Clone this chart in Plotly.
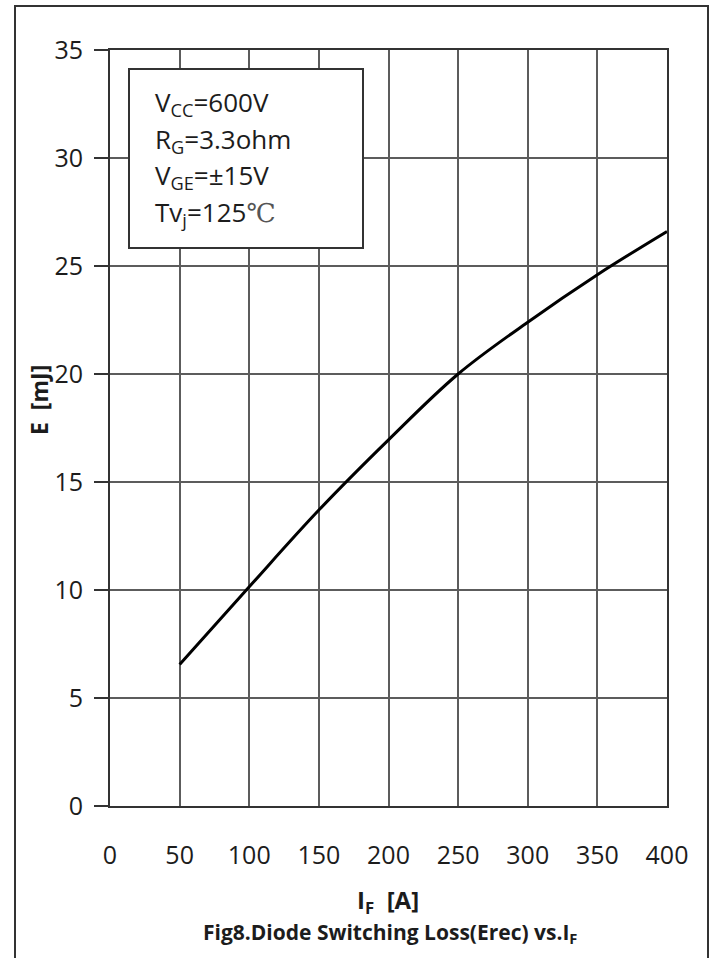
import plotly.graph_objects as go

# Data
i_f = [50, 100, 150, 200, 250, 300, 350, 400]
e_rec = [6.55, 10.15, 13.7, 16.95, 20.0, 22.4, 24.6, 26.6]

x_ticks = [0, 50, 100, 150, 200, 250, 300, 350, 400]
y_ticks = [0, 5, 10, 15, 20, 25, 30, 35]

cond_lines = ["V<sub>CC</sub>=600V", "R<sub>G</sub>=3.3ohm",
              "V<sub>GE</sub>=±15V", "Tv<sub>j</sub>=125<span style='font-family:DejaVu Serif;color:#555'>℃</span>"]
x_title = "I<sub>F</sub>  [A]"
y_title = "E  [mJ]"
caption = "Fig8.Diode Switching Loss(Erec) vs.I<sub>F</sub>"

W, H = 715, 958
L, R, T, B = 110, 667, 50, 806  # plot area in pixels


def px(x):
    return (x - L) / (R - L)


def py(y):
    return (B - y) / (B - T)


FONT = "Open Sans"
TXT = "#1c1c1c"

fig = go.Figure()
fig.add_trace(go.Scatter(x=i_f, y=e_rec, mode="lines",
                         line=dict(color="black", width=3, shape="spline"),
                         showlegend=False, hoverinfo="skip"))

fig.update_layout(
    width=W, height=H,
    margin=dict(l=L, r=W - R, t=T, b=H - B, pad=0),
    paper_bgcolor="white", plot_bgcolor="white",
    font=dict(family=FONT, color=TXT),
)
fig.update_xaxes(range=[0, 400], tickvals=x_ticks, ticks="", showgrid=True,
                 gridcolor="#5c5c5c", gridwidth=2, showline=True, linecolor="#333",
                 linewidth=2, mirror=True, zeroline=False,
                 tickfont=dict(family=FONT, size=25, color=TXT),
                 ticklabelstandoff=26)
fig.update_yaxes(range=[0, 35], tickvals=y_ticks, ticks="outside", ticklen=14,
                 tickwidth=2, tickcolor="#333", showgrid=True,
                 gridcolor="#5c5c5c", gridwidth=2, showline=True, linecolor="#333",
                 linewidth=2, mirror=True, zeroline=False,
                 tickfont=dict(family=FONT, size=25, color=TXT),
                 ticklabelstandoff=6)

shapes = []
# outer frame
shapes.append(dict(type="rect", xref="paper", yref="paper",
                   x0=px(15), x1=px(708), y0=py(975), y1=py(6),
                   line=dict(color="#333", width=2), fillcolor="rgba(0,0,0,0)", layer="above"))
# condition box
shapes.append(dict(type="rect", xref="paper", yref="paper",
                   x0=px(129), x1=px(363), y0=py(248), y1=py(69),
                   line=dict(color="#333", width=2), fillcolor="white", layer="above"))
fig.update_layout(shapes=shapes)

ann = []
line_centers = [101, 137.5, 174, 211]
for txt, yc in zip(cond_lines, line_centers):
    ann.append(dict(text=txt, xref="paper", yref="paper", x=px(153), y=py(yc + 2),
                    xanchor="left", yanchor="middle", showarrow=False, align="left",
                    font=dict(family=FONT, size=26, color=TXT)))
ann.append(dict(text="<b>" + y_title + "</b>", xref="paper", yref="paper",
                x=px(39), y=py(400), textangle=-90, showarrow=False,
                xanchor="center", yanchor="middle",
                font=dict(family=FONT, size=23, color=TXT)))
ann.append(dict(text="<b>" + x_title + "</b>", xref="paper", yref="paper",
                x=px(388), y=py(901), showarrow=False,
                xanchor="center", yanchor="middle",
                font=dict(family=FONT, size=24, color=TXT)))
ann.append(dict(text="<b>" + caption + "</b>", xref="paper", yref="paper",
                x=px(390), y=py(933), showarrow=False,
                xanchor="center", yanchor="middle",
                font=dict(family=FONT, size=21, color=TXT)))
fig.update_layout(annotations=ann)

fig.write_html("out.html")
